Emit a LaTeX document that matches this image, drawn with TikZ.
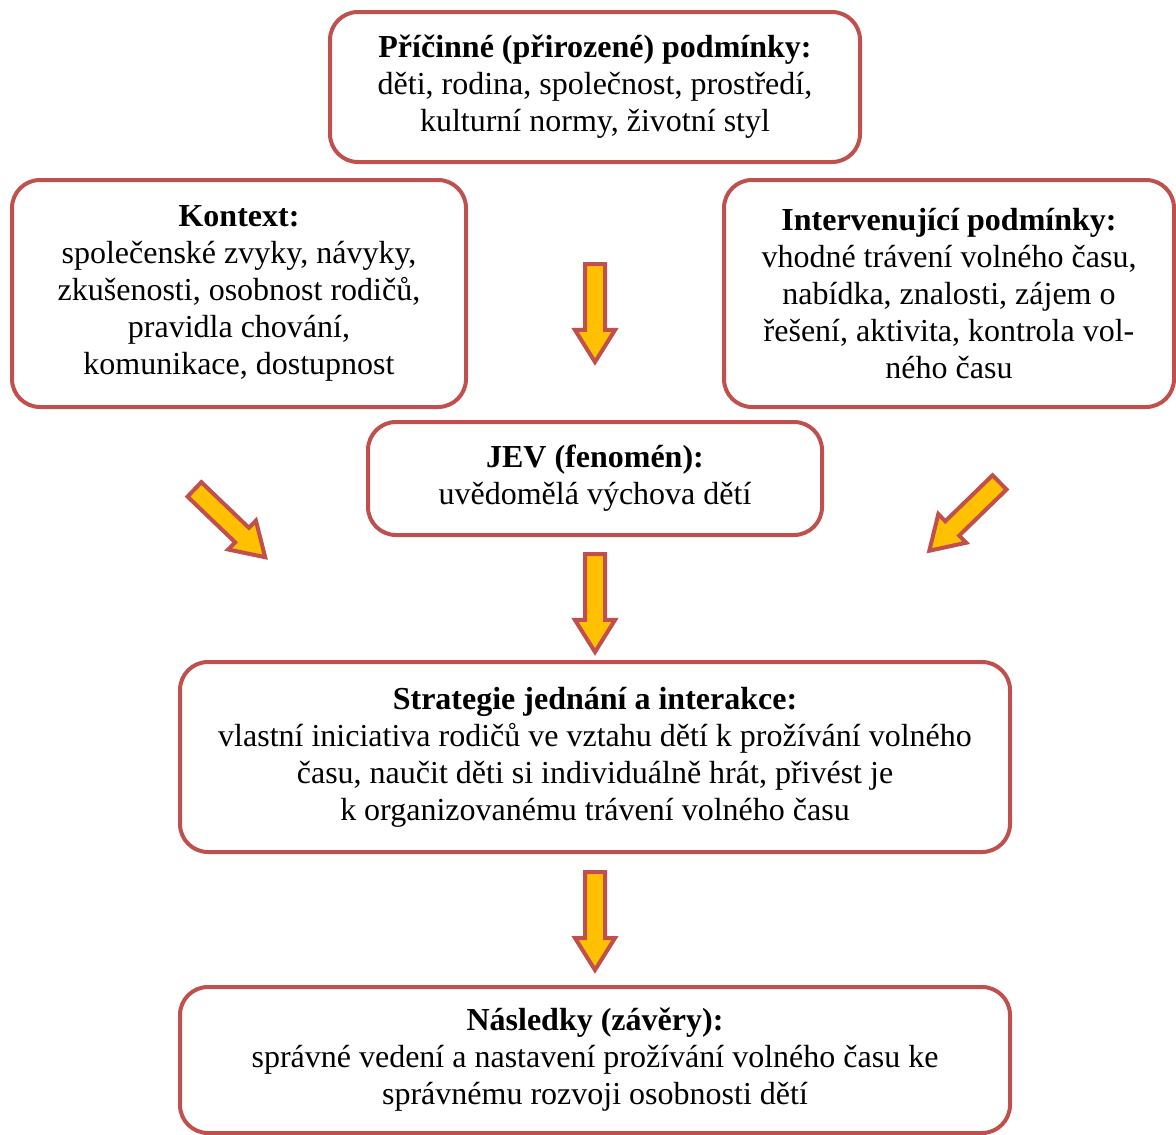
\documentclass[tikz,border=0pt]{standalone}
\usepackage{fontspec}
\setmainfont{Liberation Serif}
\usetikzlibrary{positioning, shapes.arrows}
\definecolor{boxLine}{HTML}{C0504D}
\definecolor{arrowFill}{HTML}{FFC000}
\tikzset{
    Box/.style = {
        draw=boxLine, line width=4pt, rounded corners=28pt,
        align=center, inner sep=0pt,
        font=\fontsize{32}{37}\selectfont
    },
    Arrow/.style = {
        single arrow, draw=boxLine, fill=arrowFill, line width=4pt,
        minimum height=98pt, minimum width=36pt, inner sep=8pt,
        single arrow head extend=10pt, single arrow tip angle=64,
        anchor=tail, rotate=#1
    },
    Arrow/.default={-90}
}

\begin{document}
\begin{tikzpicture}[x=1pt, y=-1pt]
    \useasboundingbox (0,0) rectangle (1176,1135);
    \node [Box, minimum width=530pt, minimum height=150pt] (P) at (595,87)
        {\textbf{Příčinné (přirozené) podmínky:}\\ děti, rodina, společnost, prostředí,\\ kulturní normy, životní styl};
    \node [Box, minimum width=454pt, minimum height=227pt] (K) at (239,293.5)
        {\textbf{Kontext:}\\ společenské zvyky, návyky,\\ zkušenosti, osobnost rodičů,\\ pravidla chování,\\ komunikace, dostupnost};
    \node [Box, minimum width=450pt, minimum height=227pt] (I) at (949,293.5)
        {\textbf{Intervenující podmínky:}\\ vhodné trávení volného času,\\ nabídka, znalosti, zájem o\\ řešení, aktivita, kontrola vol-\\ ného času};
    \node [Box, minimum width=454pt, minimum height=113pt] (J) at (595,478.5)
        {\textbf{JEV (fenomén):}\\ uvědomělá výchova dětí};
    \node [Box, minimum width=830pt, minimum height=190pt] (S) at (595,757)
        {\textbf{Strategie jednání a interakce:}\\ vlastní iniciativa rodičů ve vztahu dětí k prožívání volného\\ času, naučit děti si individuálně hrát, přivést je\\ k organizovanému trávení volného času};
    \node [Box, minimum width=830pt, minimum height=146pt] (N) at (595,1060)
        {\textbf{Následky (závěry):}\\ správné vedení a nastavení prožívání volného času ke\\ správnému rozvoji osobnosti dětí};
    \node [Arrow] (aP) at (595,262) {};
    \node [Arrow=-43.8] (aK) at (193,488) {};
    \node [Arrow=-135.8] (aI) at (1001,481) {};
    \node [Arrow] (aJ) at (595,552) {};
    \node [Arrow] (aS) at (595,870) {};
\end{tikzpicture}
\end{document}
